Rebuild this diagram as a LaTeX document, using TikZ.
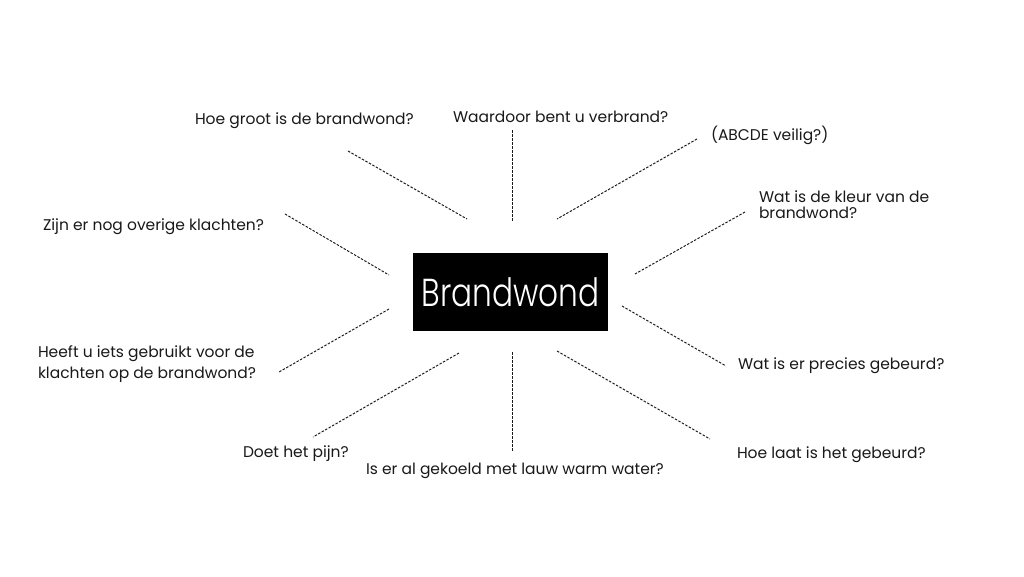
\documentclass[tikz,border=0pt]{standalone}
\usepackage{fontspec}
\setmainfont{Poppins}
\newfontfamily\hubfont[FakeStretch=0.8]{Poppins Light}
\begin{document}
\begin{tikzpicture}[x=1pt,y=-1pt,
  q/.style={inner sep=0pt,outer sep=0pt,anchor=base west,font=\fontsize{15.5}{16}\selectfont,text=black!90},
  qq/.style={inner sep=0pt,outer sep=0pt,anchor=north west,align=left,text=black!90},
  link/.style={draw=black!90,line width=0.95pt,dash pattern=on 2.5pt off 1.5pt},
  hub/.style={fill=black,minimum width=195pt,minimum height=78pt,inner sep=0pt,text=white,font=\hubfont\fontsize{39}{39}\selectfont}]
\useasboundingbox[fill=white] (0,0) rectangle (1024,576);
\node[hub] (c) at (510.5,292) {Brandwond};
\node[q] (hg) at (195,124) {Hoe groot is de brandwond?};
\node[q] (wd) at (453,122) {Waardoor bent u verbrand?};
\node[q] (ab) at (711,140) {(ABCDE veilig?)};
\node[qq,font=\fontsize{15.5}{16}\selectfont] (kl) at (759,191) {Wat is de kleur van de\\brandwond?};
\node[q] (zn) at (43,230) {Zijn er nog overige klachten?};
\node[qq,font=\fontsize{15.5}{21}\selectfont] (hf) at (38,346) {Heeft u iets gebruikt voor de\\klachten op de brandwond?};
\node[q] (dp) at (243,457) {Doet het pijn?};
\node[q] (ek) at (366,474) {Is er al gekoeld met lauw warm water?};
\node[q] (wp) at (738,369) {Wat is er precies gebeurd?};
\node[q] (hl) at (737,458) {Hoe laat is het gebeurd?};
\coordinate (hg1) at (348,151); \coordinate (hg2) at (467,219);
\coordinate (wd1) at (512,130); \coordinate (wd2) at (512,222);
\coordinate (ab1) at (697,139); \coordinate (ab2) at (557,219);
\coordinate (kl1) at (745,212); \coordinate (kl2) at (635,274);
\coordinate (zn1) at (285,214); \coordinate (zn2) at (389,275);
\coordinate (hf1) at (389,309); \coordinate (hf2) at (279,372);
\coordinate (dp1) at (459,353); \coordinate (dp2) at (313,437);
\coordinate (ek1) at (512,352); \coordinate (ek2) at (512,451);
\coordinate (wp1) at (622,306); \coordinate (wp2) at (726,366);
\coordinate (hl1) at (557,351); \coordinate (hl2) at (710,439);
\draw[link] (hg1) -- (hg2);
\draw[link] (wd1) -- (wd2);
\draw[link] (ab1) -- (ab2);
\draw[link] (kl1) -- (kl2);
\draw[link] (zn1) -- (zn2);
\draw[link] (hf1) -- (hf2);
\draw[link] (dp1) -- (dp2);
\draw[link] (ek1) -- (ek2);
\draw[link] (wp1) -- (wp2);
\draw[link] (hl1) -- (hl2);
\end{tikzpicture}
\end{document}
